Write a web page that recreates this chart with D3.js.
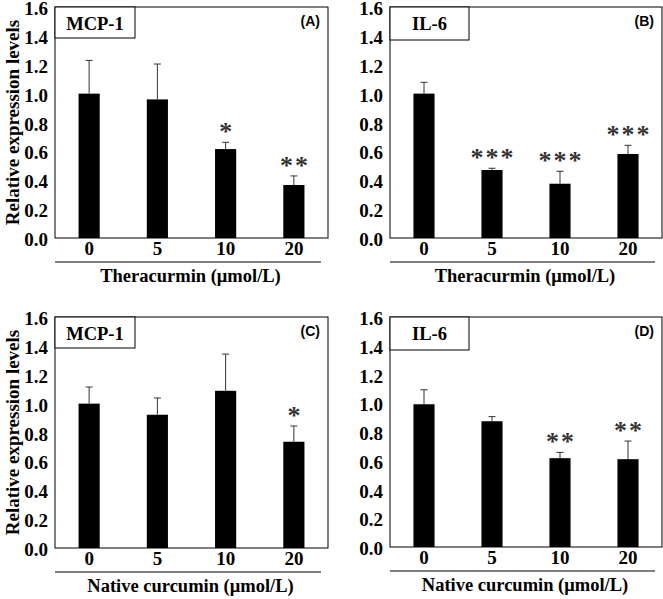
<!DOCTYPE html>
<html>
<head>
<meta charset="utf-8">
<script src="https://cdn.jsdelivr.net/npm/d3@7"></script>
<style>
  body { margin: 0; background: #fff; }
  text { font-family: "Liberation Serif", "Times New Roman", serif; font-weight: bold; }
</style>
</head>
<body>
<svg id="chart" width="663" height="599"></svg>
<script>
// doses on the x axis
const doses = ["0", "5", "10", "20"]
const yTicks = [0, 0.2, 0.4, 0.6, 0.8, 1.0, 1.2, 1.4, 1.6]

// means, SD and significance marks
const meanA = [1.0, 0.96, 0.616, 0.367]
const sdA   = [0.23, 0.245, 0.047, 0.063]
const starA = ["", "", "*", "**"]

const meanB = [1.0, 0.471, 0.376, 0.582]
const sdB   = [0.078, 0.012, 0.086, 0.06]
const starB = ["", "***", "***", "***"]

const meanC = [1.0, 0.923, 1.089, 0.736]
const sdC   = [0.115, 0.116, 0.254, 0.109]
const starC = ["", "", "", "*"]

const meanD = [0.993, 0.875, 0.618, 0.611]
const sdD   = [0.101, 0.032, 0.04, 0.126]
const starD = ["", "", "**", "**"]

const panels = [
  {tag: "(A)", gene: "MCP-1", xlab: "Theracurmin (μmol/L)", mean: meanA, sd: sdA, star: starA,
   x0: 55, x1: 328, y0: 7, y1: 238, boxW: 80, boxH: 31, ylab: true},
  {tag: "(B)", gene: "IL-6", xlab: "Theracurmin (μmol/L)", mean: meanB, sd: sdB, star: starB,
   x0: 390, x1: 662, y0: 7, y1: 238, boxW: 79, boxH: 33, ylab: false},
  {tag: "(C)", gene: "MCP-1", xlab: "Native curcumin (μmol/L)", mean: meanC, sd: sdC, star: starC,
   x0: 55, x1: 328, y0: 317, y1: 548, boxW: 80, boxH: 31, ylab: true},
  {tag: "(D)", gene: "IL-6", xlab: "Native curcumin (μmol/L)", mean: meanD, sd: sdD, star: starD,
   x0: 390, x1: 662, y0: 317, y1: 547, boxW: 79, boxH: 33, ylab: false}
]

const svg = d3.select("#chart")

panels.forEach(p => {
  const g = svg.append("g")

  const x = d3.scaleBand()
    .domain(doses)
    .range([p.x0, p.x1])
    .paddingInner(0.69)
    .paddingOuter(0.345)

  const y = d3.scaleLinear()
    .domain([0, 1.6])
    .range([p.y1, p.y0])

  const rows = doses.map((d, i) => ({dose: d, m: p.mean[i], sd: p.sd[i], star: p.star[i]}))

  // bars
  g.selectAll("rect.bar")
    .data(rows)
    .enter()
    .append("rect")
    .classed("bar", true)
    .attr("x", d => x(d.dose))
    .attr("y", d => y(d.m))
    .attr("width", x.bandwidth())
    .attr("height", d => y(0) - y(d.m))
    .attr("fill", "#000")

  // error bars (upper only)
  const cx = d => x(d.dose) + x.bandwidth() / 2
  g.selectAll("line.err")
    .data(rows)
    .enter()
    .append("line")
    .attr("x1", cx).attr("x2", cx)
    .attr("y1", d => y(d.m)).attr("y2", d => y(d.m + d.sd))
    .attr("stroke", "#333").attr("stroke-width", 1)
  g.selectAll("line.cap")
    .data(rows)
    .enter()
    .append("line")
    .attr("x1", d => cx(d) - 3.5).attr("x2", d => cx(d) + 3.5)
    .attr("y1", d => y(d.m + d.sd)).attr("y2", d => y(d.m + d.sd))
    .attr("stroke", "#333").attr("stroke-width", 1)

  // stars
  g.selectAll("text.star")
    .data(rows.filter(d => d.star))
    .enter()
    .append("text")
    .attr("x", d => cx(d) + 1)
    .attr("y", d => y(d.m + d.sd) - 2)
    .attr("text-anchor", "middle")
    .attr("letter-spacing", 2)
    .attr("font-size", 26)
    .style("font-weight", "bold")
    .attr("fill", "#333")
    .text(d => d.star)

  // frame
  g.append("rect")
    .attr("x", p.x0).attr("y", p.y0)
    .attr("width", p.x1 - p.x0).attr("height", p.y1 - p.y0)
    .attr("fill", "none").attr("stroke", "#000").attr("stroke-width", 1)

  // y axis labels
  const yAxis = d3.axisLeft(y).tickValues(yTicks).tickFormat(d3.format(".1f")).tickSize(0).tickPadding(7)
  const ya = g.append("g").attr("transform", `translate(${p.x0},0)`).call(yAxis)
  ya.select(".domain").remove()
  ya.selectAll("text").attr("font-size", 19).attr("fill", "#000").attr("dy", "0.4em")
    .style("font-family", "'Liberation Serif', serif").style("font-weight", "bold")

  // x axis labels
  const xAxis = d3.axisBottom(x).tickSize(0).tickPadding(3)
  const xa = g.append("g").attr("transform", `translate(0,${p.y1})`).call(xAxis)
  xa.select(".domain").remove()
  xa.selectAll("text").attr("font-size", 19).attr("fill", "#000")
    .style("font-family", "'Liberation Serif', serif").style("font-weight", "bold")

  // separator line and x title
  const sepY = p.y1 + 24
  g.append("line")
    .attr("x1", p.x0).attr("x2", p.x1 - 7)
    .attr("y1", sepY).attr("y2", sepY)
    .attr("stroke", "#000").attr("stroke-width", 1)
  g.append("text")
    .attr("x", (p.x0 + p.x1) / 2 - 1)
    .attr("y", sepY + 20)
    .attr("text-anchor", "middle")
    .attr("font-size", 18.5)
    .text(p.xlab)

  // gene box
  g.append("rect")
    .attr("x", p.x0).attr("y", p.y0)
    .attr("width", p.boxW).attr("height", p.boxH)
    .attr("fill", "#fff").attr("stroke", "#000").attr("stroke-width", 1)
  g.append("text")
    .attr("x", p.x0 + p.boxW / 2)
    .attr("y", p.y0 + 23)
    .attr("text-anchor", "middle")
    .attr("font-size", 18.5)
    .text(p.gene)

  // panel tag
  g.append("text")
    .attr("x", p.x1 - 8)
    .attr("y", p.y0 + 19)
    .attr("text-anchor", "end")
    .attr("font-size", 14)
    .style("font-family", "'Liberation Sans', Arial, sans-serif")
    .text(p.tag)

  if (p.ylab) {
    g.append("text")
      .attr("transform", `translate(19,${(p.y0 + p.y1) / 2}) rotate(-90)`)
      .attr("text-anchor", "middle")
      .attr("font-size", 19)
      .text("Relative expression levels")
  }
})
</script>
</body>
</html>
